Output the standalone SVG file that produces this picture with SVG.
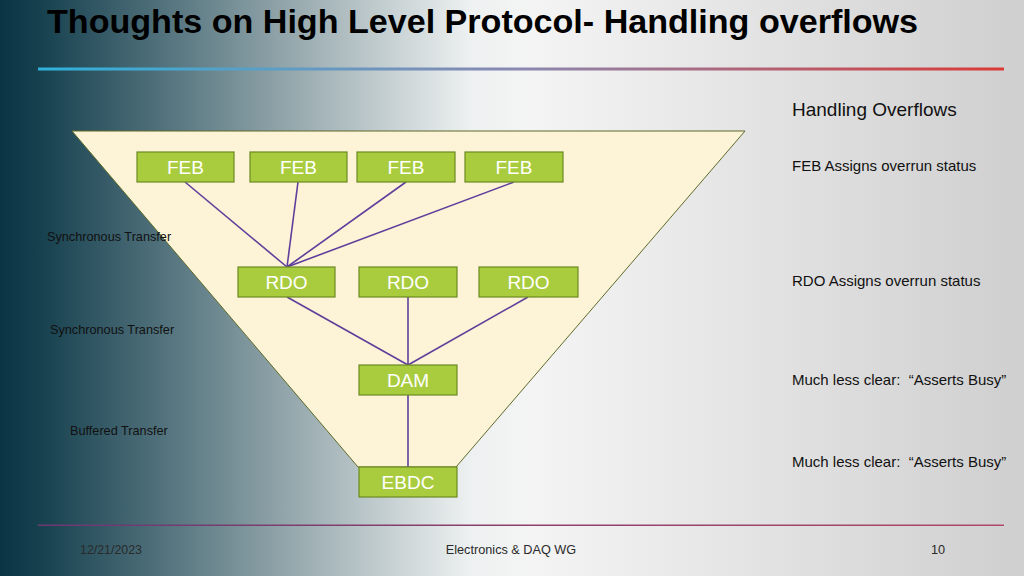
<svg xmlns="http://www.w3.org/2000/svg" width="1024" height="576" viewBox="0 0 1024 576">
<defs>
<linearGradient id="bg" x1="0" y1="0" x2="1" y2="0">
<stop offset="0" stop-color="#0a3444"/>
<stop offset="0.04" stop-color="#17414f"/>
<stop offset="0.15" stop-color="#4d6e79"/>
<stop offset="0.28" stop-color="#93a6ab"/>
<stop offset="0.38" stop-color="#c6d0d2"/>
<stop offset="0.46" stop-color="#eef1f1"/>
<stop offset="0.52" stop-color="#f4f4f4"/>
<stop offset="1" stop-color="#cfcfcf"/>
</linearGradient>
<linearGradient id="rule" x1="0" y1="0" x2="1" y2="0">
<stop offset="0" stop-color="#2fb2da"/>
<stop offset="0.5" stop-color="#8a88b0"/>
<stop offset="1" stop-color="#da3a36"/>
</linearGradient>
<linearGradient id="foot" x1="0" y1="0" x2="1" y2="0">
<stop offset="0" stop-color="#6a3a70"/>
<stop offset="1" stop-color="#b04868"/>
</linearGradient>
</defs>
<style>
.box{fill:#a9cc3e;stroke:#6b8a22;stroke-width:1.2}
.lbl{font-family:"Liberation Sans",Arial,sans-serif;font-size:19px;fill:#ffffff;text-anchor:middle}
.side{font-family:"Liberation Sans",Arial,sans-serif;font-size:12.7px;fill:#111111}
.note{font-family:"Liberation Sans",Arial,sans-serif;font-size:15px;fill:#111111}
.ft{font-family:"Liberation Sans",Arial,sans-serif;font-size:12.7px;fill:#2a2a2a}
.con{stroke:#5e3f9c;stroke-width:1.6;fill:none}
</style>
<rect x="0" y="0" width="1024" height="576" fill="url(#bg)"/>
<text transform="translate(47,33) scale(1,1.12)" x="0" y="0" font-family="Liberation Sans,Arial,sans-serif" font-weight="bold" font-size="29.5" fill="#000" textLength="871" lengthAdjust="spacingAndGlyphs">Thoughts on High Level Protocol- Handling overflows</text>
<rect x="38" y="67.5" width="966" height="3" fill="url(#rule)"/>
<polygon points="72,131 745,131 456,467 358,467" fill="#fdf3d6" stroke="#5d6b2a" stroke-width="1"/>
<g id="connectors">
<line class="con" x1="185" y1="182" x2="287" y2="267"/>
<line class="con" x1="298" y1="182" x2="287" y2="267"/>
<line class="con" x1="406" y1="182" x2="287" y2="267"/>
<line class="con" x1="514" y1="182" x2="287" y2="267"/>
<line class="con" x1="287" y1="297" x2="408" y2="365"/>
<line class="con" x1="408" y1="297" x2="408" y2="365"/>
<line class="con" x1="528" y1="297" x2="408" y2="365"/>
<line class="con" x1="408" y1="395" x2="408" y2="467"/>
</g>
<g id="feb1"><rect class="box" x="137" y="152" width="97" height="30"/><text class="lbl" x="185.5" y="174">FEB</text></g>
<g id="feb2"><rect class="box" x="250" y="152" width="97" height="30"/><text class="lbl" x="298.5" y="174">FEB</text></g>
<g id="feb3"><rect class="box" x="357" y="152" width="98" height="30"/><text class="lbl" x="406" y="174">FEB</text></g>
<g id="feb4"><rect class="box" x="465" y="152" width="98" height="30"/><text class="lbl" x="514" y="174">FEB</text></g>
<g id="rdo1"><rect class="box" x="238" y="267" width="97" height="30"/><text class="lbl" x="286.5" y="289">RDO</text></g>
<g id="rdo2"><rect class="box" x="359" y="267" width="98" height="30"/><text class="lbl" x="408" y="289">RDO</text></g>
<g id="rdo3"><rect class="box" x="479" y="267" width="99" height="30"/><text class="lbl" x="528.5" y="289">RDO</text></g>
<g id="dam"><rect class="box" x="359" y="365" width="98" height="30"/><text class="lbl" x="408" y="387">DAM</text></g>
<g id="ebdc"><rect class="box" x="359" y="467" width="98" height="30"/><text class="lbl" x="408" y="489">EBDC</text></g>
<text class="side" x="47" y="241">Synchronous Transfer</text>
<text class="side" x="50" y="334">Synchronous Transfer</text>
<text class="side" x="70" y="435">Buffered Transfer</text>
<text x="792" y="116" font-family="Liberation Sans,Arial,sans-serif" font-size="19" fill="#111">Handling Overflows</text>
<text class="note" x="792" y="171">FEB Assigns overrun status</text>
<text class="note" x="792" y="286">RDO Assigns overrun status</text>
<text class="note" x="792" y="385" xml:space="preserve">Much less clear:  “Asserts Busy”</text>
<text class="note" x="792" y="467" xml:space="preserve">Much less clear:  “Asserts Busy”</text>
<rect x="38" y="524.5" width="966" height="1.5" fill="url(#foot)"/>
<text class="ft" x="80" y="554" textLength="62" lengthAdjust="spacingAndGlyphs">12/21/2023</text>
<text class="ft" x="511" y="554" text-anchor="middle">Electronics &amp; DAQ WG</text>
<text class="ft" x="938" y="554" text-anchor="middle">10</text>
</svg>
